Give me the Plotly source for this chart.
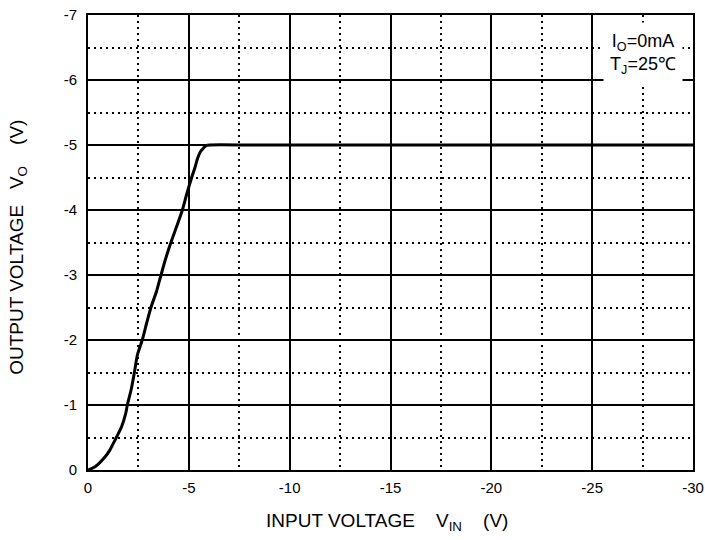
import plotly.graph_objects as go

# Input voltage (V) and output voltage (V)
vin = [0, -0.35, -0.84, -1.09, -1.34, -1.67, -1.87, -1.95, -2.15, -2.30, -2.45,
       -2.69, -2.90, -3.12, -3.40, -3.62, -3.85, -4.11, -4.40, -4.68, -4.90,
       -5.14, -5.30, -5.44, -5.58, -5.72, -5.85, -6.05, -8, -10, -15, -20, -25, -30]
vout = [0, -0.05, -0.20, -0.31, -0.46, -0.67, -0.87, -1.0, -1.25, -1.5, -1.77,
        -2.0, -2.25, -2.5, -2.75, -3.0, -3.25, -3.5, -3.75, -4.0, -4.25,
        -4.5, -4.65, -4.8, -4.9, -4.95, -4.99, -5.0, -5.0, -5.0, -5.0, -5.0, -5.0, -5.0]

x_ticks = [0, -5, -10, -15, -20, -25, -30]
x_labels = ["0", "-5", "-10", "-15", "-20", "-25", "-30"]
y_ticks = [0, -1, -2, -3, -4, -5, -6, -7]
y_labels = ["0", "-1", "-2", "-3", "-4", "-5", "-6", "-7"]

font_family = "Liberation Sans, Arial, sans-serif"
nb = "\u00a0"

fig = go.Figure()
fig.add_trace(go.Scatter(
    x=vin, y=vout, mode="lines",
    line=dict(color="black", width=3, shape="spline", smoothing=0.6),
    showlegend=False, hoverinfo="skip",
))

axis_common = dict(
    showline=True, linecolor="black", linewidth=2, mirror=True,
    showgrid=True, gridcolor="black", gridwidth=1.6,
    zeroline=False, ticks="", automargin=False,
    tickfont=dict(family=font_family, size=15, color="black"),
)

fig.update_xaxes(
    range=[0, -30], tickmode="array", tickvals=x_ticks, ticktext=x_labels,
    minor=dict(dtick=2.5, tick0=0, showgrid=True, gridcolor="black", gridwidth=1.6,
               griddash="2px,4px", ticks=""),
    ticklabelstandoff=3,
    **axis_common,
)
fig.update_yaxes(
    range=[0, -7], tickmode="array", tickvals=y_ticks, ticktext=y_labels,
    minor=dict(dtick=0.5, tick0=0, showgrid=True, gridcolor="black", gridwidth=1.6,
               griddash="2px,4px", ticks=""),
    ticklabelstandoff=6,
    **axis_common,
)

title_font = dict(family=font_family, size=19, color="black")
fig.add_annotation(
    xref="paper", yref="paper", x=0.494, y=-0.114, xanchor="center", yanchor="middle",
    text="INPUT VOLTAGE" + nb * 4 + "V<sub>IN</sub>" + nb * 4 + "(V)",
    showarrow=False, font=title_font,
)
fig.add_annotation(
    xref="paper", yref="paper", x=-0.116, y=0.49, xanchor="center", yanchor="middle",
    text="OUTPUT VOLTAGE" + nb * 3 + "V<sub>O</sub>" + nb * 4 + "(V)",
    showarrow=False, font=title_font, textangle=-90,
)

fig.add_annotation(
    xref="paper", yref="paper", x=0.917, y=0.914, xanchor="center", yanchor="middle",
    text="I<sub>O</sub>=0mA<br>T<sub>J</sub>=25℃", showarrow=False,
    font=dict(family=font_family, size=18, color="black"),
    bgcolor="white", width=76, height=60, align="center",
)

fig.update_layout(
    width=705, height=540,
    margin=dict(l=88, r=12, t=15, b=70),
    paper_bgcolor="white", plot_bgcolor="white",
)

fig.write_html("out.html")
